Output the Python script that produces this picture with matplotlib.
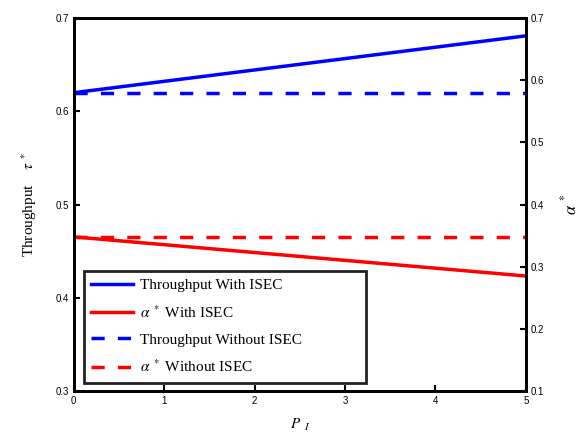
import matplotlib
matplotlib.use("Agg")
import matplotlib.pyplot as plt

# data
p_i = [0, 5]
tput_isec = [0.620, 0.681]
tput_no_isec = [0.620, 0.620]
alpha_isec = [0.348, 0.285]
alpha_no_isec = [0.348, 0.348]

SERIF = ["Liberation Serif", "DejaVu Serif"]
SANS = ["Liberation Sans", "DejaVu Sans"]
plt.rcParams["mathtext.fontset"] = "stix"

fig = plt.figure(figsize=(5.81, 4.32), dpi=100)
ax = fig.add_axes([0.127, 0.095, 0.778, 0.863])
ax2 = ax.twinx()

l1, = ax.plot(p_i, tput_isec, "-", color="#0000ff", lw=2.5)
l3, = ax.plot(p_i, tput_no_isec, "--", color="#0000ff", lw=2.5, dashes=(3.8, 3.8))
l2, = ax2.plot(p_i, alpha_isec, "-", color="#ff0000", lw=2.5)
l4, = ax2.plot(p_i, alpha_no_isec, "--", color="#ff0000", lw=2.5, dashes=(3.8, 3.8))

ax.set_xlim(0, 5)
ax.set_ylim(0.3, 0.7)
ax2.set_ylim(0.1, 0.7)
ax.set_xticks(range(6))
ax.set_yticks([0.3, 0.4, 0.5, 0.6, 0.7])
ax2.set_yticks([0.1, 0.2, 0.3, 0.4, 0.5, 0.6, 0.7])

for a in (ax, ax2):
    for s in a.spines.values():
        s.set_linewidth(2)
    a.tick_params(direction="in", length=4, width=1.5, labelsize=7)
    for lab in a.get_xticklabels() + a.get_yticklabels():
        lab.set_family(SANS)

ax.set_xlabel(r"$P_{\ \ I}$", fontsize=11, labelpad=8)
ax.set_ylabel(r"Throughput    $\tau^{\ *}$", fontsize=11, family=SERIF, labelpad=12)
ax2.set_ylabel(r"$\alpha^{\ *}$", fontsize=12, labelpad=12)

leg = ax.legend([l1, l2, l3, l4],
                ["Throughput With ISEC", r"$\alpha^{\ *}$ With ISEC",
                 "Throughput Without ISEC", r"$\alpha^{\ *}$ Without ISEC"],
                loc="lower left", bbox_to_anchor=(0.022, 0.021, 0.624, 0.3),
                mode="expand", prop={"family": SERIF, "size": 11}, fancybox=False,
                framealpha=1, edgecolor="#222222", handlelength=2.7,
                handletextpad=0.5, borderpad=0.5, labelspacing=0.8,
                borderaxespad=0)
leg.get_frame().set_linewidth(2)

fig.savefig("out.png", dpi=100, facecolor="white")
